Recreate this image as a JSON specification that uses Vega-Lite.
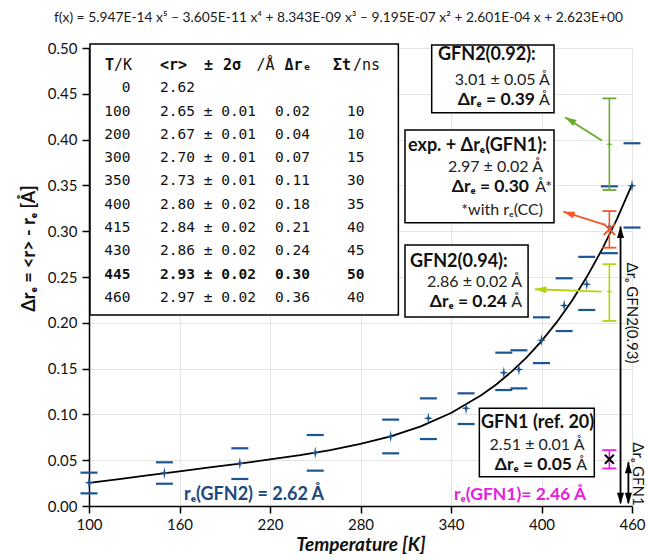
{
  "$schema": "https://vega.github.io/schema/vega-lite/v6.json",
  "width": 543,
  "height": 458,
  "autosize": {"type": "none"},
  "padding": {"left": 89, "top": 48, "right": 16, "bottom": 54},
  "background": "white",
  "title": {"text": "f(x) = 5.947E-14 x⁵ – 3.605E-11 x⁴ + 8.343E-09 x³ – 9.195E-07 x² + 2.601E-04 x + 2.623E+00", "font": "Lato", "fontSize": 13.8, "fontWeight": "normal", "color": "#1a1a1a", "anchor": "middle", "dx": -22, "offset": 16},
  "datasets": {
    "fit": [
      {"T": 100, "y": 0.0252}, {"T": 120, "y": 0.0294}, {"T": 140, "y": 0.0336}, {"T": 160, "y": 0.0379},
      {"T": 180, "y": 0.0421}, {"T": 200, "y": 0.0463}, {"T": 220, "y": 0.0508}, {"T": 240, "y": 0.0555},
      {"T": 260, "y": 0.0610}, {"T": 280, "y": 0.0677}, {"T": 300, "y": 0.0760}, {"T": 320, "y": 0.0870},
      {"T": 340, "y": 0.1015}, {"T": 360, "y": 0.1208}, {"T": 370, "y": 0.1327}, {"T": 380, "y": 0.1464},
      {"T": 390, "y": 0.1620}, {"T": 400, "y": 0.1800}, {"T": 410, "y": 0.2004}, {"T": 420, "y": 0.2236},
      {"T": 430, "y": 0.2499}, {"T": 440, "y": 0.2797}, {"T": 450, "y": 0.3132}, {"T": 460, "y": 0.3509}
    ],
    "blue": [
      {"T": 100, "y": 0.0254}, {"T": 150, "y": 0.036}, {"T": 200, "y": 0.0466}, {"T": 250, "y": 0.0582},
      {"T": 300, "y": 0.076}, {"T": 325, "y": 0.0957}, {"T": 350, "y": 0.1066}, {"T": 375, "y": 0.1455},
      {"T": 385, "y": 0.149}, {"T": 400, "y": 0.181}, {"T": 415, "y": 0.219}, {"T": 430, "y": 0.242},
      {"T": 445, "y": 0.305}, {"T": 460, "y": 0.3497}
    ],
    "bluecaps": [
      {"T": 100, "y": 0.0138}, {"T": 100, "y": 0.0364},
      {"T": 150, "y": 0.0243}, {"T": 150, "y": 0.0477},
      {"T": 200, "y": 0.0295}, {"T": 200, "y": 0.063},
      {"T": 250, "y": 0.0386}, {"T": 250, "y": 0.0775},
      {"T": 300, "y": 0.0575}, {"T": 300, "y": 0.0943},
      {"T": 325, "y": 0.0731}, {"T": 325, "y": 0.1175},
      {"T": 350, "y": 0.0895}, {"T": 350, "y": 0.123},
      {"T": 375, "y": 0.1266}, {"T": 375, "y": 0.1674},
      {"T": 385, "y": 0.1284}, {"T": 385, "y": 0.170},
      {"T": 400, "y": 0.156}, {"T": 400, "y": 0.206},
      {"T": 415, "y": 0.191}, {"T": 415, "y": 0.2486},
      {"T": 430, "y": 0.214}, {"T": 430, "y": 0.272},
      {"T": 445, "y": 0.276}, {"T": 445, "y": 0.349},
      {"T": 460, "y": 0.304}, {"T": 460, "y": 0.396}
    ],
    "stems": [
      {"s": "GFN2(0.92)", "T": 445, "y": 0.345, "y2": 0.445},
      {"s": "exp+GFN1", "T": 445, "y": 0.282, "y2": 0.322},
      {"s": "GFN2(0.94)", "T": 445, "y": 0.202, "y2": 0.264},
      {"s": "GFN1", "T": 445, "y": 0.041, "y2": 0.061}
    ],
    "scaps": [
      {"s": "GFN2(0.92)", "T": 445, "y": 0.345}, {"s": "GFN2(0.92)", "T": 445, "y": 0.445},
      {"s": "exp+GFN1", "T": 445, "y": 0.282}, {"s": "exp+GFN1", "T": 445, "y": 0.322},
      {"s": "GFN2(0.94)", "T": 445, "y": 0.202}, {"s": "GFN2(0.94)", "T": 445, "y": 0.264},
      {"s": "GFN1", "T": 445, "y": 0.041}, {"s": "GFN1", "T": 445, "y": 0.061}
    ],
    "scenters": [
      {"s": "GFN2(0.92)", "T": 445, "y": 0.395},
      {"s": "exp+GFN1", "T": 445, "y": 0.302},
      {"s": "GFN2(0.94)", "T": 445, "y": 0.234},
      {"s": "GFN1", "T": 445, "y": 0.051}
    ],
    "arrows": [
      {"s": "GFN2(0.92)", "T": 440.0, "y": 0.399, "T2": 415.6, "y2": 0.4243},
      {"s": "exp+GFN1", "T": 442.1, "y": 0.3068, "T2": 414.5, "y2": 0.3213},
      {"s": "GFN2(0.94)", "T": 439.9, "y": 0.234, "T2": 395.7, "y2": 0.2366},
      {"s": "GFN2(0.93)", "T": 452.4, "y": 0.003, "T2": 452.4, "y2": 0.305},
      {"s": "GFN2(0.93)", "T": 457.6, "y": 0.003, "T2": 457.6, "y2": 0.048}
    ],
    "heads": [
      {"s": "GFN2(0.92)", "T": 415.6, "y": 0.4243, "a": 299.8},
      {"s": "exp+GFN1", "T": 414.5, "y": 0.3213, "a": 287.7},
      {"s": "GFN2(0.94)", "T": 395.7, "y": 0.2366, "a": 272.1},
      {"s": "GFN2(0.93)", "T": 452.4, "y": 0.305, "a": 0},
      {"s": "GFN2(0.93)", "T": 452.4, "y": 0.002, "a": 180},
      {"s": "GFN2(0.93)", "T": 457.6, "y": 0.048, "a": 0},
      {"s": "GFN2(0.93)", "T": 457.6, "y": 0.002, "a": 180}
    ],
    "boxes": [
      {"T": 100.66, "y": 0.5044, "T2": 305.1, "y2": 0.2085},
      {"T": 327.2, "y": 0.5033, "T2": 408.3, "y2": 0.4294},
      {"T": 309.5, "y": 0.4105, "T2": 408.3, "y2": 0.3093},
      {"T": 309.5, "y": 0.2849, "T2": 391.1, "y2": 0.2063},
      {"T": 358.8, "y": 0.1067, "T2": 435.0, "y2": 0.0320}
    ],
    "tbl": [
      {"row": "0", "col": "k", "T": 127.5, "y": 0.4558, "label": "0"},
      {"row": "0", "col": "r", "T": 147.1, "y": 0.4558, "label": "2.62"},
      {"row": "100", "col": "k", "T": 127.5, "y": 0.4304, "label": "100"},
      {"row": "100", "col": "r", "T": 147.1, "y": 0.4304, "label": "2.65 ± 0.01"},
      {"row": "100", "col": "d", "T": 223.3, "y": 0.4304, "label": "0.02"},
      {"row": "100", "col": "t", "T": 271.1, "y": 0.4304, "label": "10"},
      {"row": "200", "col": "k", "T": 127.5, "y": 0.4050, "label": "200"},
      {"row": "200", "col": "r", "T": 147.1, "y": 0.4050, "label": "2.67 ± 0.01"},
      {"row": "200", "col": "d", "T": 223.3, "y": 0.4050, "label": "0.04"},
      {"row": "200", "col": "t", "T": 271.1, "y": 0.4050, "label": "10"},
      {"row": "300", "col": "k", "T": 127.5, "y": 0.3796, "label": "300"},
      {"row": "300", "col": "r", "T": 147.1, "y": 0.3796, "label": "2.70 ± 0.01"},
      {"row": "300", "col": "d", "T": 223.3, "y": 0.3796, "label": "0.07"},
      {"row": "300", "col": "t", "T": 271.1, "y": 0.3796, "label": "15"},
      {"row": "350", "col": "k", "T": 127.5, "y": 0.3543, "label": "350"},
      {"row": "350", "col": "r", "T": 147.1, "y": 0.3543, "label": "2.73 ± 0.01"},
      {"row": "350", "col": "d", "T": 223.3, "y": 0.3543, "label": "0.11"},
      {"row": "350", "col": "t", "T": 271.1, "y": 0.3543, "label": "30"},
      {"row": "400", "col": "k", "T": 127.5, "y": 0.3288, "label": "400"},
      {"row": "400", "col": "r", "T": 147.1, "y": 0.3288, "label": "2.80 ± 0.02"},
      {"row": "400", "col": "d", "T": 223.3, "y": 0.3288, "label": "0.18"},
      {"row": "400", "col": "t", "T": 271.1, "y": 0.3288, "label": "35"},
      {"row": "415", "col": "k", "T": 127.5, "y": 0.3035, "label": "415"},
      {"row": "415", "col": "r", "T": 147.1, "y": 0.3035, "label": "2.84 ± 0.02"},
      {"row": "415", "col": "d", "T": 223.3, "y": 0.3035, "label": "0.21"},
      {"row": "415", "col": "t", "T": 271.1, "y": 0.3035, "label": "40"},
      {"row": "430", "col": "k", "T": 127.5, "y": 0.2781, "label": "430"},
      {"row": "430", "col": "r", "T": 147.1, "y": 0.2781, "label": "2.86 ± 0.02"},
      {"row": "430", "col": "d", "T": 223.3, "y": 0.2781, "label": "0.24"},
      {"row": "430", "col": "t", "T": 271.1, "y": 0.2781, "label": "45"},
      {"row": "445", "col": "k", "T": 127.5, "y": 0.2527, "label": "445"},
      {"row": "445", "col": "r", "T": 147.1, "y": 0.2527, "label": "2.93 ± 0.02"},
      {"row": "445", "col": "d", "T": 223.3, "y": 0.2527, "label": "0.30"},
      {"row": "445", "col": "t", "T": 271.1, "y": 0.2527, "label": "50"},
      {"row": "460", "col": "k", "T": 127.5, "y": 0.2273, "label": "460"},
      {"row": "460", "col": "r", "T": 147.1, "y": 0.2273, "label": "2.97 ± 0.02"},
      {"row": "460", "col": "d", "T": 223.3, "y": 0.2273, "label": "0.36"},
      {"row": "460", "col": "t", "T": 271.1, "y": 0.2273, "label": "40"}
    ],
    "hdrB": [
      {"T": 110.6, "y": 0.4814, "label": "T"},
      {"T": 147.1, "y": 0.4814, "label": "<r>"},
      {"T": 176.2, "y": 0.4814, "label": "±"},
      {"T": 188.8, "y": 0.4814, "label": "2σ"},
      {"T": 229.6, "y": 0.4814, "label": "Δrₑ"},
      {"T": 261.8, "y": 0.4814, "label": "Σt"}
    ],
    "hdrN": [
      {"T": 116.6, "y": 0.4814, "label": "/K"},
      {"T": 211.0, "y": 0.4814, "label": "/Å"},
      {"T": 275.0, "y": 0.4814, "label": "/ns"}
    ],
    "boldLeft": [
      {"T": 331.4, "y": 0.4924, "label": "GFN2(0.92):"},
      {"T": 311.5, "y": 0.3930, "label": "exp. + Δrₑ(GFN1):"},
      {"T": 312.8, "y": 0.2664, "label": "GFN2(0.94):"}
    ],
    "boldCenter": [
      {"T": 397.4, "y": 0.0906, "label": "GFN1 (ref. 20)"}
    ],
    "boldRight": [
      {"T": 395.7, "y": 0.4432, "label": "Δrₑ = 0.39"},
      {"T": 391.7, "y": 0.3483, "label": "Δrₑ = 0.30"},
      {"T": 377.1, "y": 0.2227, "label": "Δrₑ = 0.24"},
      {"T": 420.2, "y": 0.0448, "label": "Δrₑ = 0.05"}
    ],
    "normRight": [
      {"T": 405.6, "y": 0.4651, "label": "3.01 ± 0.05 Å"},
      {"T": 405.6, "y": 0.4432, "label": "Å"},
      {"T": 401.0, "y": 0.3701, "label": "2.97 ± 0.02 Å"},
      {"T": 407.0, "y": 0.3483, "label": "Å*"},
      {"T": 401.0, "y": 0.3231, "label": "*with rₑ(CC)"},
      {"T": 387.1, "y": 0.2445, "label": "2.86 ± 0.02 Å"},
      {"T": 387.1, "y": 0.2227, "label": "Å"},
      {"T": 430.2, "y": 0.0448, "label": "Å"}
    ],
    "normCenter": [
      {"T": 397.0, "y": 0.0666, "label": "2.51 ± 0.01 Å"}
    ],
    "vert": [
      {"T": 460.3, "y": 0.2107, "label": "Δrₑ GFN2(0.93)"},
      {"T": 464.2, "y": 0.0349, "label": "Δrₑ GFN1"}
    ],
    "lblGFN2": [{"T": 209.4, "y": 0.012, "label": "rₑ(GFN2) = 2.62 Å"}],
    "lblGFN1": [{"T": 385.8, "y": 0.012, "label": "rₑ(GFN1)= 2.46 Å"}]
  },
  "encoding": {
    "x": {"field": "T", "type": "quantitative", "scale": {"domain": [100, 460], "nice": false, "zero": false},
      "axis": {"values": [100, 160, 220, 280, 340, 400, 460], "title": "Temperature [K]", "grid": true, "labelFlush": false}},
    "y": {"field": "y", "type": "quantitative", "scale": {"domain": [0, 0.5], "nice": false},
      "axis": {"values": [0, 0.05, 0.1, 0.15, 0.2, 0.25, 0.3, 0.35, 0.4, 0.45, 0.5], "format": ".2f", "title": "Δrₑ = <r> - rₑ [Å]", "grid": true, "titleY": 200, "labelFlush": false}}
  },
  "layer": [
    {"data": {"name": "fit"}, "mark": {"type": "line", "color": "black", "strokeWidth": 1.8}},
    {"data": {"name": "bluecaps"}, "mark": {"type": "tick", "orient": "horizontal", "color": "#1c5594", "opacity": 1, "size": 17, "thickness": 2.2}},
    {"data": {"name": "blue"}, "mark": {"type": "point", "filled": true, "color": "#1c5594", "opacity": 1, "size": 150, "shape": "M0,-1L0.16,-0.16L0.75,0L0.16,0.16L0,1L-0.16,0.16L-0.75,0L-0.16,-0.16Z"}},
    {"data": {"name": "stems"}, "mark": {"type": "rule", "strokeWidth": 1.6},
      "encoding": {"y2": {"field": "y2"}, "color": {"field": "s", "type": "nominal", "legend": null,
        "scale": {"domain": ["GFN2(0.92)", "exp+GFN1", "GFN2(0.94)", "GFN1", "GFN2(0.93)"], "range": ["#69ab2f", "#f2582a", "#b8d10f", "#ec1fe3", "#000000"]}}}},
    {"data": {"name": "scaps"}, "mark": {"type": "tick", "orient": "horizontal", "opacity": 1, "size": 14, "thickness": 1.8},
      "encoding": {"color": {"field": "s", "type": "nominal", "legend": null}}},
    {"data": {"name": "scenters"}, "transform": [{"filter": "datum.s === 'GFN2(0.92)' || datum.s === 'GFN2(0.94)'"}],
      "mark": {"type": "point", "filled": true, "opacity": 1, "size": 90, "shape": "M0,-1L0.16,-0.16L0.75,0L0.16,0.16L0,1L-0.16,0.16L-0.75,0L-0.16,-0.16Z"},
      "encoding": {"color": {"field": "s", "type": "nominal", "legend": null}}},
    {"data": {"name": "scenters"}, "transform": [{"filter": "datum.s === 'exp+GFN1'"}],
      "mark": {"type": "point", "filled": false, "opacity": 1, "size": 130, "strokeWidth": 2, "shape": "M-1,-1L1,1M1,-1L-1,1"},
      "encoding": {"color": {"field": "s", "type": "nominal", "legend": null}}},
    {"data": {"name": "scenters"}, "transform": [{"filter": "datum.s === 'GFN1'"}],
      "mark": {"type": "point", "filled": false, "opacity": 1, "size": 80, "strokeWidth": 2, "color": "black", "shape": "M-1,-1L1,1M1,-1L-1,1"}},
    {"data": {"name": "arrows"}, "mark": {"type": "rule", "strokeWidth": 1.8},
      "encoding": {"x2": {"field": "T2"}, "y2": {"field": "y2"}, "color": {"field": "s", "type": "nominal", "legend": null}}},
    {"data": {"name": "heads"}, "mark": {"type": "point", "filled": true, "opacity": 1, "size": 200, "shape": "M0,0L0.5,1.6L-0.5,1.6Z"},
      "encoding": {"angle": {"field": "a", "type": "quantitative", "scale": null}, "color": {"field": "s", "type": "nominal", "legend": null}}},
    {"data": {"name": "boxes"}, "mark": {"type": "rect", "fill": "white", "stroke": "black", "strokeWidth": 1.5},
      "encoding": {"x2": {"field": "T2"}, "y2": {"field": "y2"}}},
    {"data": {"name": "tbl"}, "transform": [{"filter": "datum.col === 'k' && datum.row !== '445'"}],
      "mark": {"type": "text", "font": "DejaVu Sans Mono", "fontSize": 14.5, "align": "right", "baseline": "middle", "color": "#111"},
      "encoding": {"text": {"field": "label"}}},
    {"data": {"name": "tbl"}, "transform": [{"filter": "datum.col !== 'k' && datum.row !== '445'"}],
      "mark": {"type": "text", "font": "DejaVu Sans Mono", "fontSize": 14.5, "align": "left", "baseline": "middle", "color": "#111"},
      "encoding": {"text": {"field": "label"}}},
    {"data": {"name": "tbl"}, "transform": [{"filter": "datum.col === 'k' && datum.row === '445'"}],
      "mark": {"type": "text", "font": "DejaVu Sans Mono", "fontSize": 14.5, "fontWeight": "bold", "align": "right", "baseline": "middle", "color": "#111"},
      "encoding": {"text": {"field": "label"}}},
    {"data": {"name": "tbl"}, "transform": [{"filter": "datum.col !== 'k' && datum.row === '445'"}],
      "mark": {"type": "text", "font": "DejaVu Sans Mono", "fontSize": 14.5, "fontWeight": "bold", "align": "left", "baseline": "middle", "color": "#111"},
      "encoding": {"text": {"field": "label"}}},
    {"data": {"name": "hdrB"}, "mark": {"type": "text", "font": "DejaVu Sans Mono", "fontSize": 15, "fontWeight": "bold", "align": "left", "baseline": "middle", "color": "#111"},
      "encoding": {"text": {"field": "label"}}},
    {"data": {"name": "hdrN"}, "mark": {"type": "text", "font": "DejaVu Sans Mono", "fontSize": 15, "align": "left", "baseline": "middle", "color": "#111"},
      "encoding": {"text": {"field": "label"}}},
    {"data": {"name": "boldLeft"}, "mark": {"type": "text", "font": "Lato", "fontSize": 18, "fontWeight": "bold", "align": "left", "baseline": "middle", "color": "#111"},
      "encoding": {"text": {"field": "label"}}},
    {"data": {"name": "boldCenter"}, "mark": {"type": "text", "font": "Lato", "fontSize": 18, "fontWeight": "bold", "align": "center", "baseline": "middle", "color": "#111"},
      "encoding": {"text": {"field": "label"}}},
    {"data": {"name": "boldRight"}, "mark": {"type": "text", "font": "Lato", "fontSize": 17.5, "fontWeight": "bold", "align": "right", "baseline": "middle", "color": "#111"},
      "encoding": {"text": {"field": "label"}}},
    {"data": {"name": "normRight"}, "mark": {"type": "text", "font": "Lato", "fontSize": 16, "align": "right", "baseline": "middle", "color": "#222"},
      "encoding": {"text": {"field": "label"}}},
    {"data": {"name": "normCenter"}, "mark": {"type": "text", "font": "Lato", "fontSize": 16, "align": "center", "baseline": "middle", "color": "#222"},
      "encoding": {"text": {"field": "label"}}},
    {"data": {"name": "vert"}, "mark": {"type": "text", "font": "Lato", "fontSize": 15, "angle": 90, "align": "center", "baseline": "middle", "color": "#111"},
      "encoding": {"text": {"field": "label"}}},
    {"data": {"name": "lblGFN2"}, "mark": {"type": "text", "font": "Lato", "fontSize": 18, "fontWeight": "bold", "align": "center", "baseline": "middle", "color": "#1b4a80"},
      "encoding": {"text": {"field": "label"}}},
    {"data": {"name": "lblGFN1"}, "mark": {"type": "text", "font": "Lato", "fontSize": 17.5, "fontWeight": "bold", "align": "center", "baseline": "middle", "color": "#e620dc"},
      "encoding": {"text": {"field": "label"}}}
  ],
  "config": {
    "view": {"stroke": null},
    "axis": {"domainColor": "black", "domainWidth": 1.5, "tickColor": "black", "tickWidth": 1.5, "tickSize": 7,
      "gridColor": "#e4e4e4", "gridWidth": 1, "labelFont": "Lato", "labelFontSize": 15, "labelColor": "#111",
      "titleFont": "Lato", "titleFontSize": 18, "titleFontWeight": "bold", "titleColor": "#111"},
    "axisX": {"labelPadding": 4, "titleFontStyle": "italic", "titleFontSize": 19, "titlePadding": 3},
    "axisY": {"labelPadding": 5, "titlePadding": 9}
  }
}
